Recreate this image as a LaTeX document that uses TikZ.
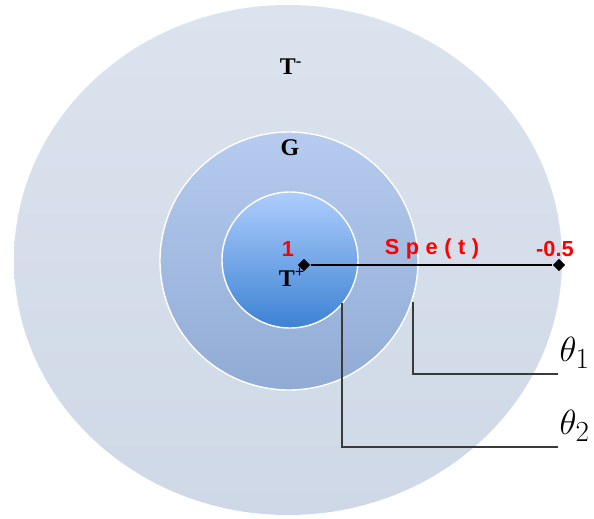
\documentclass[tikz,border=0pt]{standalone}
\usepackage{fontspec}
\newfontfamily\sanslab{Liberation Sans}
\newfontfamily\seriflab{Liberation Serif}
\usepackage{tikz}
\usetikzlibrary{shapes.geometric,positioning}
\definecolor{outertop}{HTML}{DBE3EE}
\definecolor{outerbot}{HTML}{CFD8E6}
\definecolor{midtop}{HTML}{B6CBEF}
\definecolor{midbot}{HTML}{90ABD4}
\definecolor{innertop}{HTML}{AECDFC}
\definecolor{innerbot}{HTML}{3C82D4}
\definecolor{leadgray}{HTML}{3A3A3A}

\begin{document}
\begin{tikzpicture}[x=0.025cm,y=0.025cm,
    diam/.style={diamond,fill=black,inner sep=0pt,minimum size=9pt},
    redlab/.style={text=red,font=\sanslab\bfseries\fontsize{15.5}{18}\selectfont},
    blacklab/.style={font=\seriflab\bfseries\fontsize{17}{20}\selectfont},
    thetalab/.style={anchor=south west,inner xsep=1pt,inner ysep=4pt,font=\fontsize{24.88}{30}\selectfont},
    leader/.style={leadgray,line width=1.1pt}]
        \useasboundingbox (0,0) rectangle (594,-519);
        % Draw the discs
        \shade[top color=outertop,bottom color=outerbot] (288,-260) ellipse (274 and 255);
        \shade[top color=midtop,bottom color=midbot,draw=white,line width=1pt] (289,-261) circle (129);
        \shade[top color=innertop,bottom color=innerbot,draw=white,line width=1pt] (290,-260) circle (68);
        % region labels
        \node[blacklab] (tminus) at (291,-67) {T\textsuperscript{-}};
        \node[blacklab] (gset) at (290,-148) {G};
        \node[blacklab] (tplus) at (292,-277) {T\textsuperscript{+}};
        % spectrum
        \node[diam] (cen) at (304,-265) {};
        \node[diam] (end) at (559,-265) {};
        \draw[line width=1.4pt] (cen) -- (end);
        \node[redlab] (one) at (288,-249) {1};
        \node[redlab] (spe) at (432,-249) {\addfontfeatures{LetterSpace=30}Spe(t)};
        \node[redlab] (half) at (555,-249) {-0.5};
        % boundaries
        \coordinate (b1) at (413,-302);
        \coordinate (b2) at (342,-303);
        \node[thetalab] (th1) at (558,-374) {$\theta_1$};
        \node[thetalab] (th2) at (558,-447) {$\theta_2$};
        \draw[leader] (b1) |- (th1.south west);
        \draw[leader] (b2) |- (th2.south west);
      \end{tikzpicture}
\end{document}
